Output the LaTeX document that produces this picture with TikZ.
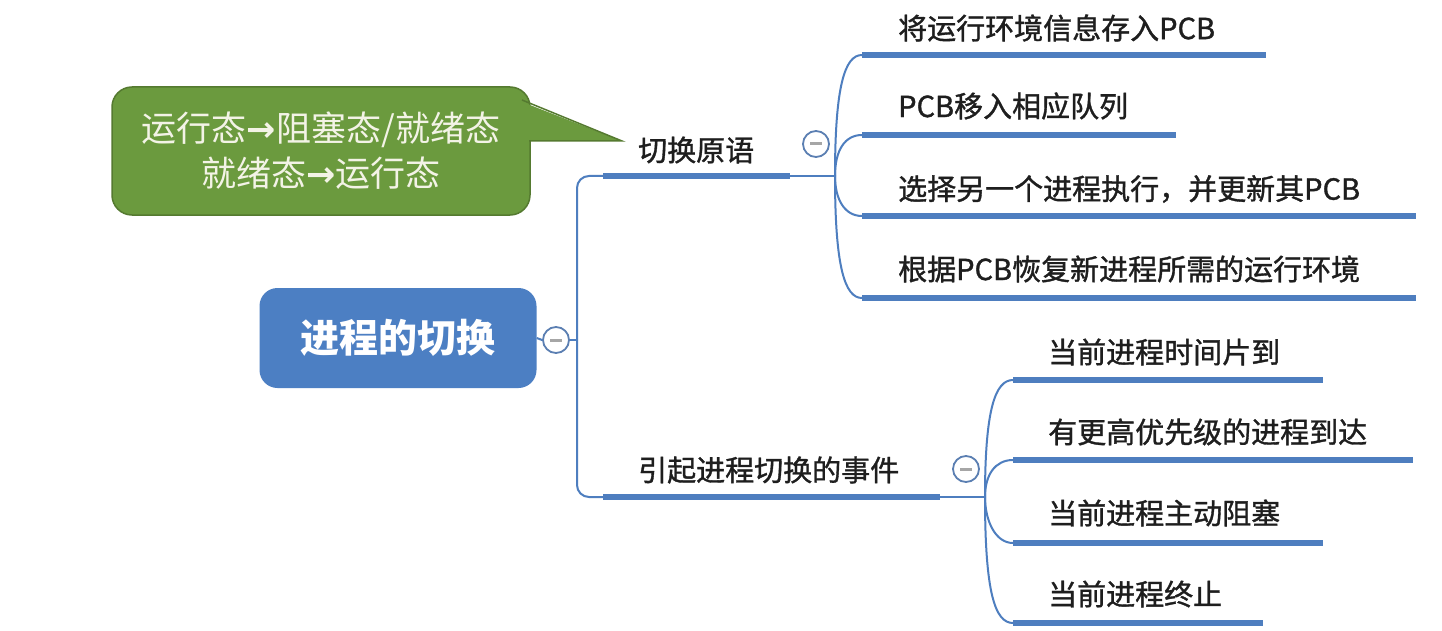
\documentclass[tikz,border=0pt]{standalone}
\usepackage{fontspec}
\setmainfont{Noto Sans CJK SC}
\newfontfamily\cjkmed[FakeBold=1.2]{Noto Sans CJK SC}
\newfontfamily\djv{DejaVu Sans}
\definecolor{lineblue}{HTML}{4E7EBF}
\definecolor{rootblue}{HTML}{4C7FC3}
\definecolor{circblue}{HTML}{5B7FB2}
\definecolor{textdark}{HTML}{1E1E1E}
\definecolor{callgreen}{HTML}{6B9A3E}
\definecolor{callborder}{HTML}{557A30}
\definecolor{calltext}{HTML}{F3F3E6}
\newcommand{\rarr}{{\djv\bfseries →}}
\tikzset{
  thinl/.style={draw=lineblue, line width=2pt},
  thickl/.style={draw=lineblue, line width=6pt},
  leaf/.style={anchor=west, inner sep=0pt, font=\cjkmed\fontsize{29}{34}\selectfont, text=textdark},
  collapse/.style={circle, draw=circblue, line width=1.8pt, fill=white, minimum size=26pt, inner sep=0pt,
    path picture={\draw[gray!70, line width=3pt] ([xshift=-6pt]path picture bounding box.center) -- ([xshift=6pt]path picture bounding box.center);}},
  rootbox/.style={rectangle, rounded corners=18pt, fill=rootblue, text=white, minimum width=277pt, minimum height=100pt,
    font=\fontsize{39}{44}\selectfont\bfseries},
  calloutbox/.style={rectangle, rounded corners=20pt, fill=callgreen, draw=callborder, line width=1.5pt, text=calltext,
    minimum width=418pt, minimum height=128pt, align=center, font=\fontsize{35}{45}\selectfont},
}
\begin{document}
\begin{tikzpicture}[x=1pt,y=-1pt]
\useasboundingbox[fill=white] (0,0) rectangle (1442,631);

% callout
\node[calloutbox] (callout) at (321,151) {运行态\rarr 阻塞态/就绪态\\就绪态\rarr 运行态};
\coordinate (tip) at (622,141);
\coordinate (pu) at (522,100);
\coordinate (pl) at (529,141);
\fill[callgreen] (512,98) -- (tip) -- (512,141) -- cycle;
\draw[callborder, line width=1.5pt] (pu) -- (tip) -- (pl);

% root
\node[rootbox] (root) at (398,338) {进程的切换};
\node[collapse] (c0) at (556,340) {};
\draw[thinl] (root.east) -- (c0.west);
\coordinate (trunk) at (577,340);
\draw[thinl] (c0.east) -- (trunk);

% branch coordinates
\coordinate (b1s) at (603,176); \coordinate (b1e) at (790,176); \coordinate (f1) at (835,176);
\coordinate (b2s) at (603,497); \coordinate (b2e) at (940,497); \coordinate (f2) at (985,497);
\draw[thinl, rounded corners=12pt] (b1s) -| (trunk) |- (b2s);

% branch 1
\draw[thickl] (b1s) -- (b1e);
\draw[thinl] (b1e) -- (f1);
\node[leaf] (b1) at (638,150) {切换原语};
\node[collapse] (c1) at (816,144) {};

% branch 2
\draw[thickl] (b2s) -- (b2e);
\draw[thinl] (b2e) -- (f2);
\node[leaf] (b2) at (638,470) {引起进程切换的事件};
\node[collapse] (c2) at (966,469) {};

% leaves of branch 1
\coordinate (l1s) at (862,55);  \coordinate (l1e) at (1266,55);
\coordinate (l2s) at (862,135); \coordinate (l2e) at (1176,135);
\coordinate (l3s) at (862,216); \coordinate (l3e) at (1416,216);
\coordinate (l4s) at (862,298); \coordinate (l4e) at (1416,298);
\draw[thinl] (f1) .. controls (835,85) and (845,55) .. (l1s);
\draw[thinl] (f1) .. controls (835,150) and (845,135) .. (l2s);
\draw[thinl] (f1) .. controls (835,200) and (845,216) .. (l3s);
\draw[thinl] (f1) .. controls (835,268) and (845,298) .. (l4s);
\draw[thickl] (l1s) -- (l1e);
\draw[thickl] (l2s) -- (l2e);
\draw[thickl] (l3s) -- (l3e);
\draw[thickl] (l4s) -- (l4e);
\node[leaf] (t1) at (898,28) {将运行环境信息存入PCB};
\node[leaf] (t2) at (898,106) {PCB移入相应队列};
\node[leaf] (t3) at (898,189) {选择另一个进程执行，并更新其PCB};
\node[leaf] (t4) at (898,269) {根据PCB恢复新进程所需的运行环境};

% leaves of branch 2
\coordinate (l5s) at (1013,380); \coordinate (l5e) at (1323,380);
\coordinate (l6s) at (1013,460); \coordinate (l6e) at (1413,460);
\coordinate (l7s) at (1013,543); \coordinate (l7e) at (1323,543);
\coordinate (l8s) at (1013,623); \coordinate (l8e) at (1263,623);
\draw[thinl] (f2) .. controls (985,410) and (995,380) .. (l5s);
\draw[thinl] (f2) .. controls (985,475) and (995,460) .. (l6s);
\draw[thinl] (f2) .. controls (985,520) and (995,543) .. (l7s);
\draw[thinl] (f2) .. controls (985,593) and (995,623) .. (l8s);
\draw[thickl] (l5s) -- (l5e);
\draw[thickl] (l6s) -- (l6e);
\draw[thickl] (l7s) -- (l7e);
\draw[thickl] (l8s) -- (l8e);
\node[leaf] (t5) at (1048,352) {当前进程时间片到};
\node[leaf] (t6) at (1048,432) {有更高优先级的进程到达};
\node[leaf] (t7) at (1048,513) {当前进程主动阻塞};
\node[leaf] (t8) at (1048,594) {当前进程终止};
\end{tikzpicture}
\end{document}
